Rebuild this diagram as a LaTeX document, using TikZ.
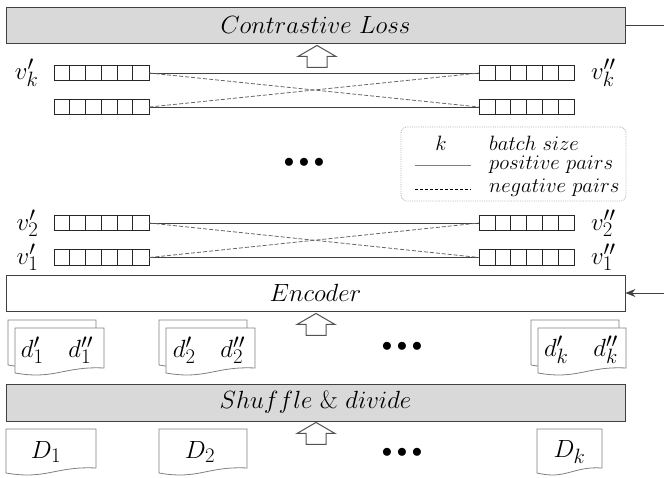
\documentclass[tikz,border=0pt]{standalone}
\usetikzlibrary{positioning,calc,arrows.meta}
\definecolor{boxgray}{HTML}{D9D9D9}
\definecolor{edgegray}{HTML}{404040}
\definecolor{sheetgray}{HTML}{808080}
\definecolor{keygray}{HTML}{B0B0B0}

% one sheet of paper: x, y (top left), width, height
\newcommand{\docsheet}[4]{%
  \draw[sheet] (#1,#2) -- ++(#3,0) -- ++(0,#4-7)
    .. controls +(-0.45*#3,-2) and +(0.45*#3,7) .. ++(-#3,5) -- cycle;}
% hollow arrow pointing up, tip at the given coordinate
\newcommand{\hollowup}[1]{%
  \draw[hollow] (#1) -- ++(19,11) -- ++(-9,0) -- ++(0,11) -- ++(-20,0)
    -- ++(0,-11) -- ++(-9,0) -- cycle;}
% cell dividers of a vector
\newcommand{\cells}[1]{%
  \foreach \i in {1,...,5}
    {\draw[vecline] ($(#1.north west)+(\i*95/6,0)$) -- ($(#1.south west)+(\i*95/6,0)$);}}

\begin{document}
\begin{tikzpicture}[x=1pt,y=-1pt,
  graybox/.style={draw=edgegray, fill=boxgray, line width=0.9pt, minimum width=619pt,
    minimum height=36pt, inner sep=0pt, font=\fontsize{24.88}{29}\selectfont},
  plainbox/.style={graybox, fill=white},
  vecbox/.style={draw=black!85, line width=0.7pt, minimum width=95pt, minimum height=15.5pt, inner sep=0pt},
  vecline/.style={draw=black!85, line width=0.7pt},
  vlabel/.style={inner sep=0pt, font=\fontsize{24.88}{29}\selectfont},
  pospair/.style={draw=edgegray, line width=0.8pt},
  negpair/.style={draw=edgegray!80, line width=0.8pt, dash pattern=on 4pt off 2pt},
  sheet/.style={draw=sheetgray, fill=white, line width=0.8pt},
  hollow/.style={draw=edgegray!90, fill=white, line width=1pt, line join=miter},
  fb/.style={draw=edgegray, line width=0.8pt},
  keytext/.style={inner sep=0pt, anchor=west, scale=1.2, font=\fontsize{17.28}{20}\selectfont},
  dots/.style={inner sep=0pt, font=\fontsize{20.74}{24}\selectfont}]

\useasboundingbox (0,0) rectangle (664,477);

% main boxes
\node[graybox] (loss) at (315.5,25) {$Contrastive\ Loss$};
\node[plainbox] (encoder) at (315.5,293) {$Encoder$};
\node[graybox, minimum height=37pt] (shuffle) at (315.5,402.5) {$Shuffle\ \&\ divide$};

% feedback to the encoder
\coordinate (fbout) at (664,25);
\coordinate (fbin) at (664,293);
\draw[fb] (loss.east) -- (fbout);
\draw[fb, -{Stealth[length=10pt,width=8pt]}] (fbin) -- (encoder.east);

% vectors
\node[vecbox] (lk) at (101.5,73) {};
\node[vecbox] (rk) at (527,73) {};
\node[vecbox] (lkk) at (101.5,107) {};
\node[vecbox] (rkk) at (527,107) {};
\node[vecbox] (ltwo) at (101.5,223) {};
\node[vecbox] (rtwo) at (527,223) {};
\node[vecbox] (lone) at (101.5,257.5) {};
\node[vecbox] (rone) at (527,257.5) {};
\foreach \v in {lk,rk,lkk,rkk,ltwo,rtwo,lone,rone}
  {\cells{\v}}

\node[vlabel, left=15pt of lk] (vkl) {$v'_k$};
\node[vlabel, right=16pt of rk] (vkr) {$v''_k$};
\node[vlabel, left=15pt of ltwo] (vtwol) {$v'_2$};
\node[vlabel, right=16pt of rtwo] (vtwor) {$v''_2$};
\node[vlabel, left=15pt of lone] (vonel) {$v'_1$};
\node[vlabel, right=16pt of rone] (voner) {$v''_1$};

% pairs
\draw[pospair] (lk.east) -- (rk.west);
\draw[pospair] (lkk.east) -- (rkk.west);
\draw[negpair] (lk.east) -- (rkk.west);
\draw[negpair] (lkk.east) -- (rk.west);
\draw[pospair] (ltwo.east) -- (rtwo.west);
\draw[pospair] (lone.east) -- (rone.west);
\draw[negpair] (ltwo.east) -- (rone.west);
\draw[negpair] (lone.east) -- (rtwo.west);

\node[dots] (dotsv) at (304,163) {$\bullet\bullet\bullet$};

% key
\node[draw=keygray, densely dotted, line width=0.8pt, rounded corners=6pt, minimum width=225pt, minimum height=74pt] (key) at (513.5,164) {};
\node[keytext, anchor=center] (keyk) at (441,143) {$k$};
\node[keytext] (keybatch) at (489,143) {$batch\ size$};
\coordinate (posa) at (415,165);
\coordinate (posb) at (471,165);
\draw[draw=sheetgray, line width=0.9pt] (posa) -- (posb);
\node[keytext] (keypos) at (489,165) {$positive\ pairs$};
\coordinate (nega) at (415,189);
\coordinate (negb) at (471,189);
\draw[densely dashed, line width=0.6pt] (nega) -- (negb);
\node[keytext] (keyneg) at (489,188) {$negative\ pairs$};

% hollow arrows
\coordinate (tipa) at ($(loss.south)+(1.5,2)$);
\coordinate (tipb) at ($(encoder.south)+(0.5,2)$);
\coordinate (tipc) at ($(shuffle.south)+(0.5,1)$);
\hollowup{tipa}
\hollowup{tipb}
\hollowup{tipc}

% divided pairs
\docsheet{8}{320}{88}{47}
\docsheet{15}{328}{89}{47}
\node[vlabel] (dpairone) at (57,350) {$d'_1\quad d''_1$};
\docsheet{159}{320}{88}{47}
\docsheet{166}{328}{89}{47}
\node[vlabel] (dpairtwo) at (209,350) {$d'_2\quad d''_2$};
\docsheet{531}{320}{88}{47}
\docsheet{538}{328}{88}{47}
\node[vlabel] (dpairk) at (581,350) {$d'_k\quad d''_k$};
\node[dots] (dotsd) at (402,347) {$\bullet\bullet\bullet$};

% data sets
\docsheet{6}{429}{90}{46}
\node[vlabel] (dsetone) at (46,452) {$D_1$};
\docsheet{159}{429}{88}{46}
\node[vlabel] (dsettwo) at (200,452) {$D_2$};
\docsheet{537}{429}{65}{46}
\node[vlabel] (dsetk) at (569.5,452) {$D_k$};
\node[dots] (dotsD) at (402,453) {$\bullet\bullet\bullet$};
\end{tikzpicture}
\end{document}
